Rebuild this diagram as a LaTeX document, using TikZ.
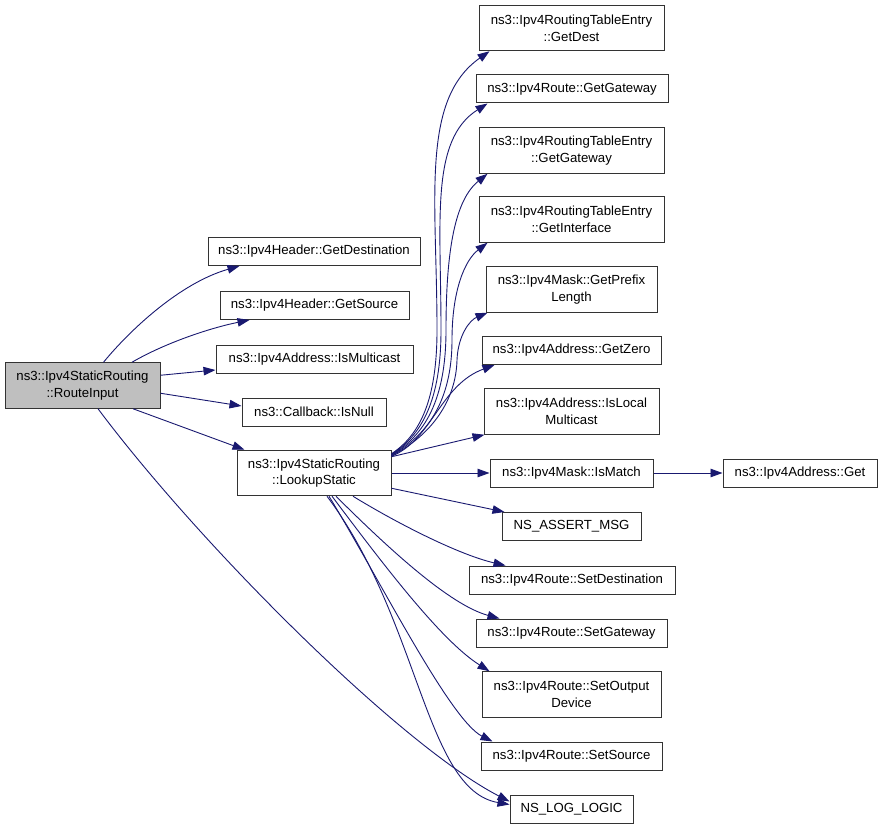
\documentclass[tikz,border=0pt]{standalone}
\usepackage{fontspec}
\setmainfont{Liberation Sans}
\usetikzlibrary{arrows.meta}
\definecolor{edgeblue}{HTML}{191970}
\definecolor{fillgray}{HTML}{BFBFBF}
\begin{document}
\begin{tikzpicture}[x=1pt,y=-1pt,
  box/.style={draw=black!80,line width=1pt,fill=white,align=center,inner sep=0pt,
    font=\fontsize{13.2}{16.8}\selectfont,minimum height=28pt},
  tall/.style={minimum height=45.5pt},
  edge/.style={draw=edgeblue,line width=0.9pt,-{Triangle[length=12pt,width=8.5pt]}}]
\useasboundingbox (0,0) rectangle (883,829);
% nodes
\node[box,tall,fill=fillgray,minimum width=155pt] (ri) at (82.5,385.5) {ns3::Ipv4StaticRouting\\::RouteInput};
\node[box,minimum width=212pt] (gdst) at (314,251.5) {ns3::Ipv4Header::GetDestination};
\node[box,minimum width=189pt] (gsrc) at (314.5,305.5) {ns3::Ipv4Header::GetSource};
\node[box,minimum width=197pt] (imc) at (314.5,359) {ns3::Ipv4Address::IsMulticast};
\node[box,minimum width=144pt] (inull) at (314,412) {ns3::Callback::IsNull};
\node[box,tall,minimum width=154pt] (ls) at (314,473) {ns3::Ipv4StaticRouting\\::LookupStatic};
\node[box,tall,minimum width=185pt] (gdest) at (571.5,28) {ns3::Ipv4RoutingTableEntry\\::GetDest};
\node[box,minimum width=192pt] (rgw) at (572,89) {ns3::Ipv4Route::GetGateway};
\node[box,tall,minimum width=185pt] (egw) at (571.5,150.5) {ns3::Ipv4RoutingTableEntry\\::GetGateway};
\node[box,tall,minimum width=185pt] (gif) at (571.5,219.5) {ns3::Ipv4RoutingTableEntry\\::GetInterface};
\node[box,tall,minimum width=171pt] (gpl) at (571.5,289.5) {ns3::Ipv4Mask::GetPrefix\\Length};
\node[box,minimum width=179pt] (gz) at (571.5,350.5) {ns3::Ipv4Address::GetZero};
\node[box,tall,minimum width=175pt] (ilm) at (571.5,411.5) {ns3::Ipv4Address::IsLocal\\Multicast};
\node[box,minimum width=163pt] (ism) at (571.5,473) {ns3::Ipv4Mask::IsMatch};
\node[box,minimum width=139pt] (nam) at (571.5,526.5) {NS\_ASSERT\_MSG};
\node[box,minimum width=206pt] (sd) at (572,580) {ns3::Ipv4Route::SetDestination};
\node[box,minimum width=191pt] (sg) at (571.5,633) {ns3::Ipv4Route::SetGateway};
\node[box,tall,minimum width=179pt] (sod) at (571.5,694.5) {ns3::Ipv4Route::SetOutput\\Device};
\node[box,minimum width=181pt] (ss) at (571.5,756) {ns3::Ipv4Route::SetSource};
\node[box,minimum width=123pt] (nll) at (571.5,809.5) {NS\_LOG\_LOGIC};
\node[box,minimum width=154pt] (get) at (800,473) {ns3::Ipv4Address::Get};
% edges from RouteInput
\draw[edge] ([xshift=21pt]ri.north) .. controls (130,330) and (180,283) .. ([xshift=32pt]gdst.south west);
\draw[edge] ([xshift=49.5pt]ri.north) .. controls (165,343) and (210,328) .. ([xshift=30pt]gsrc.south west);
\draw[edge] ([yshift=-13pt]ri.north east) -- ([yshift=-11pt]imc.west);
\draw[edge] ([yshift=-31pt]ri.north east) -- ([yshift=6pt]inull.west);
\draw[edge] ([xshift=50.5pt]ri.south) -- ([xshift=8pt]ls.north west);
\draw[edge] ([xshift=15.5pt]ri.south) .. controls (200,545) and (400,745) .. ([yshift=8pt]nll.west);
% edges from LookupStatic (upper)
\draw[edge] ([yshift=-4pt]ls.north east) .. controls (420,435) and (437,400) .. (437,330)
   .. controls (437,200) and (420,100) .. ([xshift=11pt]gdest.south west);
\draw[edge] ([yshift=-4.5pt]ls.north east) .. controls (422,435) and (441,400) .. (441,330)
   .. controls (441,220) and (430,140) .. ([xshift=12pt]rgw.south west);
\draw[edge] ([yshift=-5pt]ls.north east) .. controls (425,435) and (446,400) .. (446,330)
   .. controls (446,250) and (455,200) .. ([xshift=9pt]egw.south west);
\draw[edge] ([yshift=-5.5pt]ls.north east) .. controls (428,435) and (452,400) .. (452,340)
   .. controls (452,290) and (465,260) .. ([xshift=9pt]gif.south west);
\draw[edge] ([yshift=-6pt]ls.north east) .. controls (432,435) and (456,400) .. (457,360)
   .. controls (458,335) and (470,320) .. ([xshift=2pt]gpl.south west);
\draw[edge] ([yshift=-6.5pt]ls.north east) .. controls (432,440) and (440,385) .. ([xshift=13pt]gz.south west);
\draw[edge] ([yshift=-7pt]ls.north east) -- ([xshift=1pt]ilm.south west);
\draw[edge] (ls.east) -- (ism.west);
\draw[edge] ([yshift=8pt]ls.south east) -- ([xshift=3pt]nam.north west);
% edges from LookupStatic (lower)
\draw[edge] ([xshift=39pt]ls.south) .. controls (400,525) and (460,555) .. ([xshift=37pt]sd.north west);
\draw[edge] ([xshift=22pt]ls.south) .. controls (390,550) and (450,605) .. ([xshift=24pt]sg.north west);
\draw[edge] ([xshift=18pt]ls.south) .. controls (380,560) and (440,640) .. ([xshift=8pt]sod.north west);
\draw[edge] ([xshift=15pt]ls.south) .. controls (380,580) and (450,720) .. ([xshift=12pt]ss.north west);
\draw[edge] ([xshift=13pt]ls.south) .. controls (420,620) and (425,790) .. ([yshift=5pt]nll.west);
% IsMatch -> Get
\draw[edge] (ism.east) -- (get.west);
\end{tikzpicture}
\end{document}
